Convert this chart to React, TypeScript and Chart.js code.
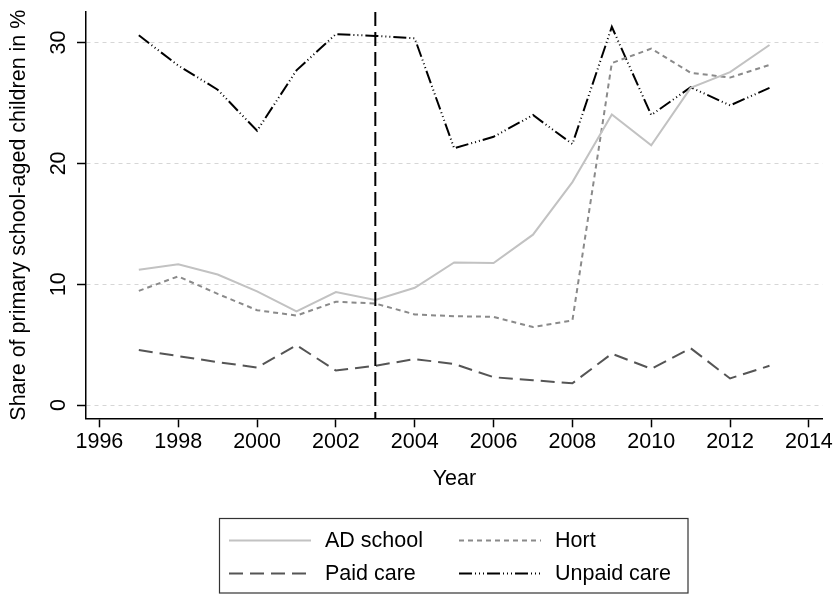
import React, { useEffect, useRef } from 'react';
import { Chart, registerables } from 'chart.js';

Chart.register(...registerables);

// ---- data ----
const years = [1997, 1998, 1999, 2000, 2001, 2002, 2003, 2004, 2005, 2006, 2007, 2008, 2009, 2010, 2011, 2012, 2013];
const adSchool = [11.2, 11.65, 10.8, 9.4, 7.75, 9.35, 8.7, 9.7, 11.8, 11.75, 14.1, 18.45, 24.05, 21.5, 26.25, 27.55, 29.8];
const hort = [9.45, 10.65, 9.2, 7.85, 7.4, 8.55, 8.4, 7.5, 7.35, 7.3, 6.45, 7.0, 28.3, 29.5, 27.5, 27.1, 28.15];
const paidCare = [4.55, 4.05, 3.55, 3.1, 4.95, 2.85, 3.25, 3.8, 3.4, 2.3, 2.05, 1.8, 4.25, 3.0, 4.7, 2.2, 3.25];
const unpaidCare = [30.6, 28.1, 26.1, 22.7, 27.7, 30.7, 30.55, 30.35, 21.25, 22.2, 24.0, 21.6, 31.3, 24.0, 26.3, 24.8, 26.25];
const seriesLabels = ['AD school', 'Hort', 'Paid care', 'Unpaid care'];
const xTickValues = [1996, 1998, 2000, 2002, 2004, 2006, 2008, 2010, 2012, 2014];
const yTickValues = [0, 10, 20, 30];
const referenceYear = 2003;
const xTitle = 'Year';
const yTitle = 'Share of primary school-aged children in %';

const FONT = '"Liberation Sans", Arial, Helvetica, sans-serif';
const FONT_SIZE = 21.5;

const toPoints = (vals: number[]) => vals.map((y, i) => ({ x: years[i], y }));

const referenceLinePlugin = {
  id: 'referenceLine',
  afterDatasetsDraw(chart: any) {
    const { ctx, chartArea, scales } = chart;
    const x = scales.x.getPixelForValue(referenceYear);
    ctx.save();
    ctx.strokeStyle = '#000';
    ctx.lineWidth = 2;
    ctx.setLineDash([14, 6]);
    ctx.beginPath();
    ctx.moveTo(x, chartArea.top);
    ctx.lineTo(x, chartArea.bottom);
    ctx.stroke();
    ctx.restore();
  },
};

const rotatedYLabelsPlugin = {
  id: 'rotatedYLabels',
  afterDraw(chart: any) {
    const { ctx, scales } = chart;
    const ys = scales.y;
    ctx.save();
    ctx.fillStyle = '#000';
    ctx.font = `${FONT_SIZE}px ${FONT}`;
    ctx.textAlign = 'center';
    ctx.textBaseline = 'alphabetic';
    ys.ticks.forEach((t: any) => {
      const py = ys.getPixelForValue(t.value);
      ctx.save();
      ctx.translate(ys.right - 21, py);
      ctx.rotate(-Math.PI / 2);
      ctx.fillText(String(t.value), 0, 0);
      ctx.restore();
    });
    ctx.restore();
  },
};

const boxLegendPlugin = {
  id: 'boxLegend',
  afterDraw(chart: any) {
    const { ctx } = chart;
    const ds = chart.data.datasets;
    const boxLeft = 219.5;
    const boxTop = 518.5;
    const boxW = 468.5;
    const boxH = 74.5;
    const rowY = [540.5, 573.5];
    const colSample = [229, 459];
    const sampleLen = 82;
    const textGap = 14;
    ctx.save();
    ctx.strokeStyle = '#333';
    ctx.lineWidth = 1.2;
    ctx.setLineDash([]);
    ctx.strokeRect(boxLeft, boxTop, boxW, boxH);
    ctx.font = `${FONT_SIZE}px ${FONT}`;
    ctx.textBaseline = 'middle';
    ctx.textAlign = 'left';
    ds.forEach((d: any, i: number) => {
      const r = Math.floor(i / 2);
      const c = i % 2;
      const x0 = colSample[c];
      const y = rowY[r];
      ctx.save();
      ctx.strokeStyle = d.borderColor;
      ctx.lineWidth = d.borderWidth;
      ctx.setLineDash(d.borderDash || []);
      ctx.beginPath();
      ctx.moveTo(x0, y);
      ctx.lineTo(x0 + sampleLen, y);
      ctx.stroke();
      ctx.restore();
      ctx.fillStyle = '#000';
      ctx.fillText(d.label, x0 + sampleLen + textGap, y + 1);
    });
    ctx.restore();
  },
};

export default function App() {
  const ref = useRef<HTMLCanvasElement | null>(null);

  useEffect(() => {
    if (!ref.current) return;
    const chart = new Chart(ref.current, {
      type: 'line',
      data: {
        datasets: [
          {
            label: seriesLabels[0],
            data: toPoints(adSchool),
            borderColor: '#c2c2c2',
            borderWidth: 2,
            borderDash: [],
          },
          {
            label: seriesLabels[1],
            data: toPoints(hort),
            borderColor: '#8a8a8a',
            borderWidth: 2,
            borderDash: [5, 4],
          },
          {
            label: seriesLabels[2],
            data: toPoints(paidCare),
            borderColor: '#555555',
            borderWidth: 2,
            borderDash: [14, 7],
          },
          {
            label: seriesLabels[3],
            data: toPoints(unpaidCare),
            borderColor: '#000000',
            borderWidth: 2,
            borderDash: [13, 3, 1, 3, 1, 3, 1, 3],
          },
        ] as any,
      },
      options: {
        animation: false,
        responsive: true,
        maintainAspectRatio: false,
        layout: { padding: { left: 0, top: 12, right: 13.3, bottom: 94 } },
        elements: {
          point: { radius: 0, hoverRadius: 0 },
          line: { tension: 0, borderCapStyle: 'butt', borderJoinStyle: 'miter', fill: false },
        },
        plugins: {
          legend: { display: false },
          tooltip: { enabled: false },
        },
        scales: {
          x: {
            type: 'linear',
            min: 1995.66,
            max: 2014.35,
            afterBuildTicks: (s: any) => {
              s.ticks = xTickValues.map((value) => ({ value }));
            },
            afterFit: (s: any) => {
              s.height = 81.7;
            },
            ticks: {
              callback: (v: any) => String(v),
              color: '#000',
              font: { family: FONT, size: FONT_SIZE },
              padding: 2,
              maxRotation: 0,
              autoSkip: false,
            },
            grid: {
              drawOnChartArea: false,
              drawTicks: true,
              tickLength: 9,
              tickColor: '#000',
              tickWidth: 1.5,
            },
            border: { display: true, color: '#000', width: 1.5 },
            title: {
              display: true,
              text: xTitle,
              color: '#000',
              font: { family: FONT, size: FONT_SIZE },
              padding: { top: 0, bottom: 8 },
            },
          },
          y: {
            type: 'linear',
            min: -1.1,
            max: 32.53,
            afterBuildTicks: (s: any) => {
              s.ticks = yTickValues.map((value) => ({ value }));
            },
            afterFit: (s: any) => {
              s.width = 86;
            },
            ticks: { display: false },
            grid: {
              drawOnChartArea: true,
              color: '#d6d6d6',
              lineWidth: 1,
              drawTicks: true,
              tickLength: 9,
              tickColor: '#000',
              tickWidth: 1.5,
              tickBorderDash: [],
            },
            border: { display: true, color: '#000', width: 1.5, dash: [4, 4] },
            title: {
              display: true,
              text: yTitle,
              color: '#000',
              font: { family: FONT, size: FONT_SIZE },
              padding: { top: 6, bottom: 0 },
            },
          },
        },
      } as any,
      plugins: [referenceLinePlugin, rotatedYLabelsPlugin, boxLegendPlugin],
    });
    return () => chart.destroy();
  }, []);

  return (
    <div style={{ position: 'absolute', left: 0, top: 0, width: 836, height: 594, background: '#fff' }}>
      <canvas ref={ref} />
    </div>
  );
}
